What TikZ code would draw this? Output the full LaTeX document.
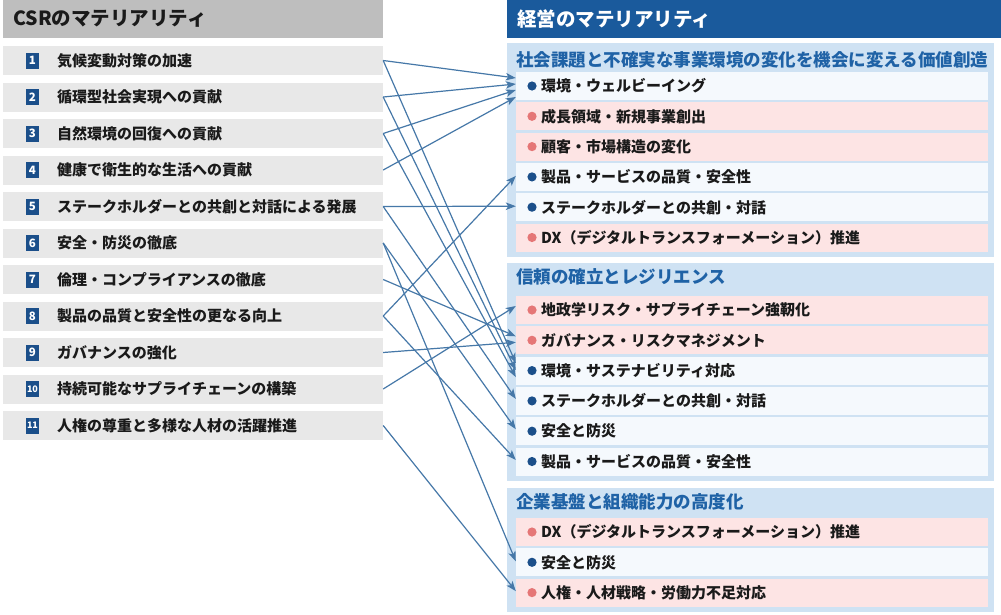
\documentclass[tikz,border=0pt]{standalone}
\usepackage{fontspec}
\setmainfont{Noto Sans CJK JP}
\usetikzlibrary{arrows.meta}
\definecolor{hdrgray}{HTML}{BEBEBE}
\definecolor{itemgray}{HTML}{E8E8E8}
\definecolor{badgeblue}{HTML}{1B4F8A}
\definecolor{hdrblue}{HTML}{1A5A9C}
\definecolor{panelblue}{HTML}{CFE2F3}
\definecolor{whitebox}{HTML}{F5F9FD}
\definecolor{pinkbox}{HTML}{FDE4E4}
\definecolor{dotpink}{HTML}{E57676}
\definecolor{dotblue}{HTML}{1B4F8A}
\definecolor{titleblue}{HTML}{1F62A6}
\definecolor{arrowblue}{HTML}{4678A8}
\definecolor{txt}{HTML}{1A1A1A}
\tikzset{
  litem/.style={draw=none,fill=itemgray,minimum width=380pt,minimum height=29pt,inner sep=0pt},
  badgebox/.style={fill=badgeblue,text=white,minimum width=13pt,minimum height=16pt,inner sep=0pt,font=\bfseries},
  ltext/.style={anchor=west,inner sep=0pt,text=txt,font=\fontsize{15}{18}\selectfont\bfseries},
  ritem/.style={minimum width=472pt,minimum height=28pt,inner sep=0pt},
  rtext/.style={anchor=west,inner sep=0pt,text=txt,font=\fontsize{15}{18}\selectfont\bfseries},
  sectitle/.style={anchor=west,inner sep=0pt,text=titleblue,font=\fontsize{17.5}{20}\selectfont\bfseries},
  hdrtext/.style={anchor=west,inner sep=0pt,font=\fontsize{19.5}{22}\selectfont\bfseries},
  panelbox/.style={fill=panelblue,draw=none},
  conn/.style={draw=arrowblue,line width=1.2pt,-{Stealth[length=10pt,width=7.5pt,inset=2.5pt]}}
}
\begin{document}
\begin{tikzpicture}[x=1pt,y=-1pt]
\useasboundingbox (0,0) rectangle (1001,614);
\fill[white] (0,0) rectangle (1001,614);
% left header
\node[fill=hdrgray,minimum width=380pt,minimum height=38pt,inner sep=0pt] (LH) at (193,19) {};
\node[hdrtext,text=txt] (LHT) at (13,19) {CSRのマテリアリティ};
% left items
\foreach \i/\t in {1/気候変動対策の加速,2/循環型社会実現への貢献,3/自然環境の回復への貢献,4/健康で衛生的な生活への貢献,5/ステークホルダーとの共創と対話による発展,6/安全・防災の徹底,7/倫理・コンプライアンスの徹底,8/製品の品質と安全性の更なる向上,9/ガバナンスの強化,10/持続可能なサプライチェーンの構築,11/人権の尊重と多様な人材の活躍推進}{
  \pgfmathsetmacro\ymid{46+(\i-1)*36.5+14.5}
  \node[litem] (L\i) at (193,\ymid) {};
  \node[badgebox] (N\i) at (32.5,\ymid) {\ifnum\i>9 \fontsize{9}{10}\selectfont\else\fontsize{11.5}{12}\selectfont\fi\i};
  \node[ltext] (T\i) at (57,\ymid) {\t};
}
% right header
\node[fill=hdrblue,minimum width=494pt,minimum height=38pt,inner sep=0pt] (RH) at (754,19) {};
\node[hdrtext,text=white] (RHT) at (517,19) {経営のマテリアリティ};
% panels
\fill[panelbox] (507,43) rectangle (994,257);
\fill[panelbox] (507,263) rectangle (994,481);
\fill[panelbox] (507,488) rectangle (994,612);
\node[sectitle] (S1) at (516,60) {社会課題と不確実な事業環境の変化を機会に変える価値創造};
\node[sectitle] (S2) at (516,277) {信頼の確立とレジリエンス};
\node[sectitle] (S3) at (516,502) {企業基盤と組織能力の高度化};
% section 1 items
\foreach \k/\f/\d/\t in {1/whitebox/dotblue/環境・ウェルビーイング,2/pinkbox/dotpink/成長領域・新規事業創出,3/pinkbox/dotpink/顧客・市場構造の変化,4/whitebox/dotblue/製品・サービスの品質・安全性,5/whitebox/dotblue/ステークホルダーとの共創・対話,6/pinkbox/dotpink/DX（デジタルトランスフォーメーション）推進}{
  \pgfmathsetmacro\ymid{72+(\k-1)*30.3+14}
  \node[ritem,fill=\f] (A\k) at (752,\ymid) {};
  \fill[\d] (532,\ymid) circle [radius=4.6pt];
  \node[rtext] (AT\k) at (541,\ymid) {\t};
}
% section 2 items
\foreach \k/\f/\d/\t in {1/pinkbox/dotpink/地政学リスク・サプライチェーン強靭化,2/pinkbox/dotpink/ガバナンス・リスクマネジメント,3/whitebox/dotblue/環境・サステナビリティ対応,4/whitebox/dotblue/ステークホルダーとの共創・対話,5/whitebox/dotblue/安全と防災,6/whitebox/dotblue/製品・サービスの品質・安全性}{
  \pgfmathsetmacro\ymid{296+(\k-1)*30.3+14}
  \node[ritem,fill=\f] (B\k) at (752,\ymid) {};
  \fill[\d] (532,\ymid) circle [radius=4.6pt];
  \node[rtext] (BT\k) at (541,\ymid) {\t};
}
% section 3 items
\foreach \k/\f/\d/\t in {1/pinkbox/dotpink/DX（デジタルトランスフォーメーション）推進,2/whitebox/dotblue/安全と防災,3/pinkbox/dotpink/人権・人材戦略・労働力不足対応}{
  \pgfmathsetmacro\ymid{518+(\k-1)*30.3+14}
  \node[ritem,fill=\f] (C\k) at (752,\ymid) {};
  \fill[\d] (532,\ymid) circle [radius=4.6pt];
  \node[rtext] (CT\k) at (541,\ymid) {\t};
}
% connectors
\draw[conn] (L1.east) -- ([yshift=8pt]A1.west);
\draw[conn] (L2.east) -- ([yshift=2pt]A1.west);
\draw[conn] (L3.east) -- ([yshift=-4pt]A1.west);
\draw[conn] (L4.east) -- ([yshift=-11pt]A1.west);
\draw[conn] (L8.east) -- ([yshift=1pt]A4.west);
\draw[conn] (L5.east) -- ([yshift=1pt]A5.west);
\draw[conn] (L10.east) -- ([yshift=4pt]B1.west);
\draw[conn] (L7.east) -- ([yshift=4pt]B2.west);
\draw[conn] (L9.east) -- ([yshift=-2pt]B2.west);
\draw[conn] (L1.east) -- ([yshift=7.5pt]B3.west);
\draw[conn] (L2.east) -- ([yshift=0.5pt]B3.west);
\draw[conn] (L3.east) -- ([yshift=-6.5pt]B3.west);
\draw[conn] (L5.east) -- ([yshift=2pt]B4.west);
\draw[conn] (L6.east) -- ([yshift=2pt]B5.west);
\draw[conn] (L8.east) -- ([yshift=1.5pt]B6.west);
\draw[conn] (L6.east) -- ([yshift=1pt]C2.west);
\draw[conn] (L11.east) -- ([yshift=1.5pt]C3.west);
\end{tikzpicture}
\end{document}
